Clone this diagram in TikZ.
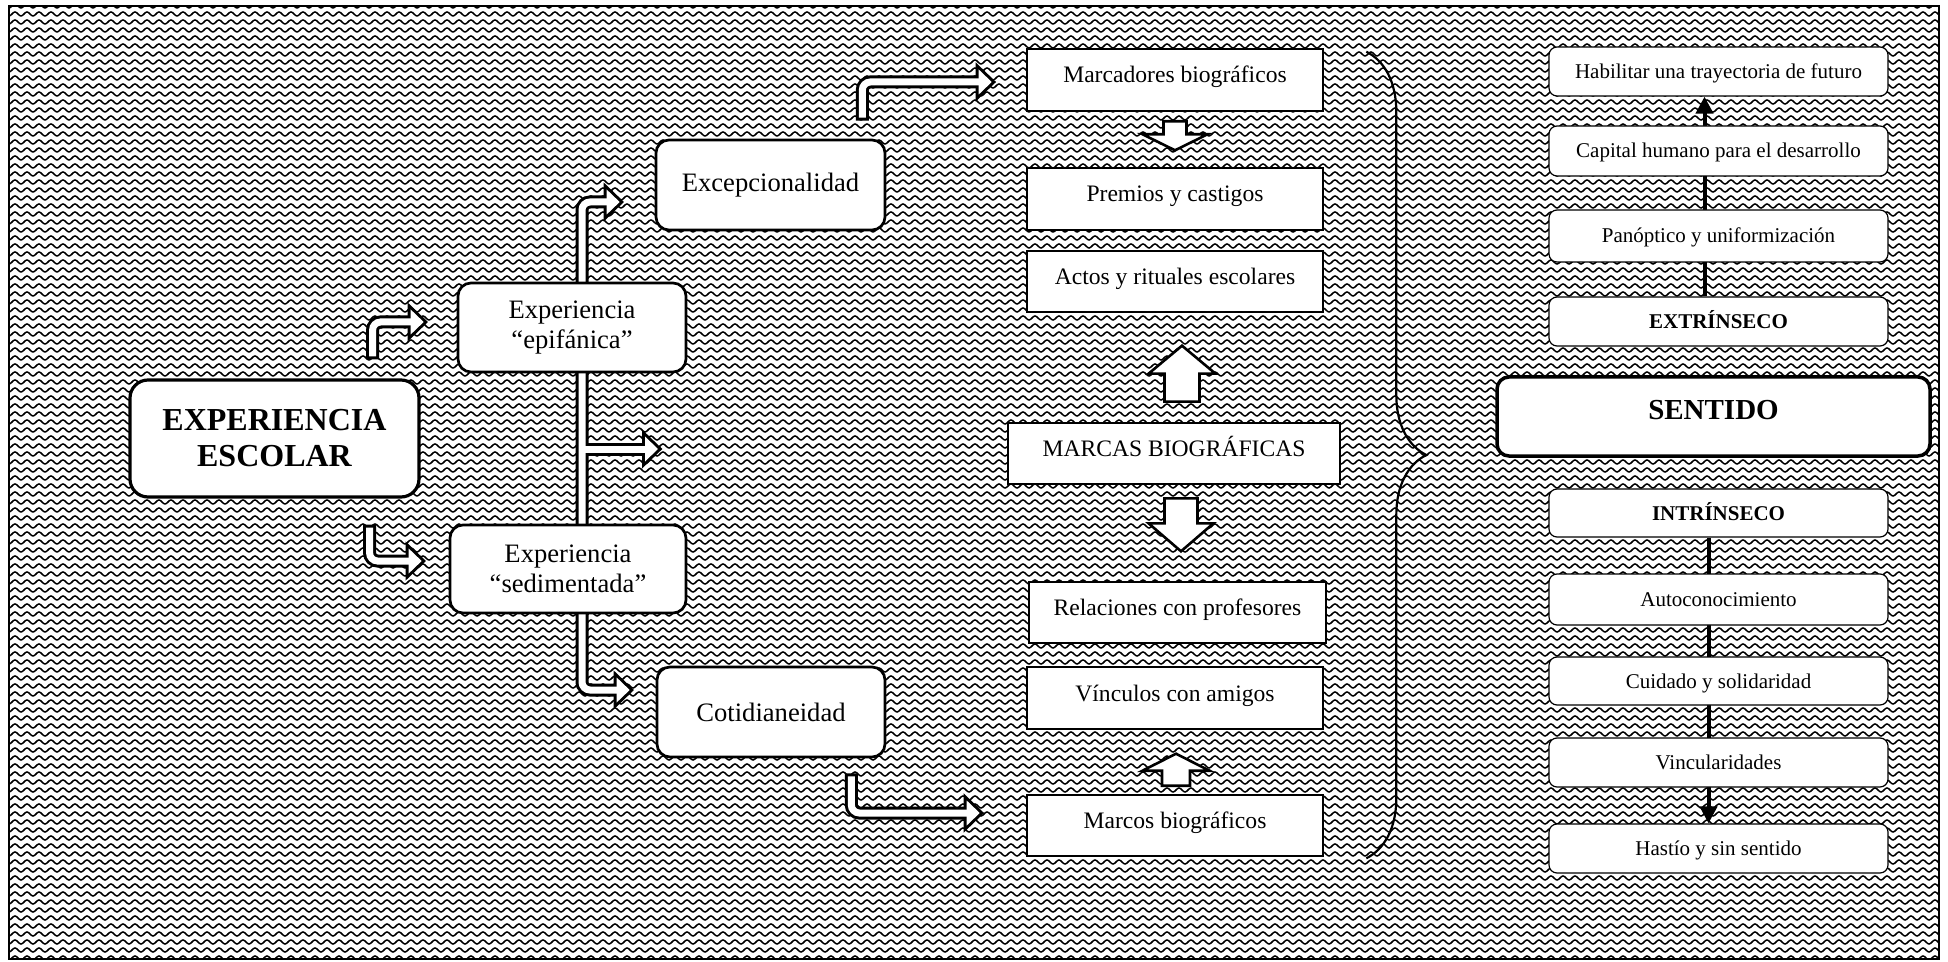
\documentclass[tikz,border=0pt]{standalone}
\usepackage{fontspec}
\setmainfont{Liberation Serif}
\usetikzlibrary{patterns,calc,decorations.pathreplacing,arrows.meta}

% wavy background texture: one sine period per tile
\pgfdeclarepatternformonly{wavy}{\pgfqpoint{-1pt}{-1pt}}{\pgfqpoint{7pt}{5pt}}{\pgfqpoint{6pt}{4pt}}{%
  \pgfsetlinewidth{0.75pt}\pgfsetroundcap
  \pgfpathmoveto{\pgfqpoint{0pt}{2pt}}
  \pgfpathsine{\pgfqpoint{1.5pt}{1pt}}
  \pgfpathcosine{\pgfqpoint{1.5pt}{-1pt}}
  \pgfpathsine{\pgfqpoint{1.5pt}{-1pt}}
  \pgfpathcosine{\pgfqpoint{1.5pt}{1pt}}
  \pgfusepath{stroke}}

\pgfdeclarelayer{ground}
\pgfdeclarelayer{back}
\pgfsetlayers{ground,back,main}

\tikzset{
  rbox/.style={draw, fill=white, rounded corners=6.5pt, line width=1.35pt, inner sep=0pt,
    align=center, font=\fontsize{13.3}{15}\selectfont},
  escbox/.style={rbox, rounded corners=9pt, line width=1.6pt, minimum width=144.5pt,
    minimum height=58.5pt, font=\fontsize{16}{18}\selectfont\bfseries},
  sqbox/.style={draw, fill=white, line width=1.3pt, inner sep=0pt, minimum width=148pt,
    minimum height=31pt, text height=8.5pt, text depth=5.5pt, font=\fontsize{11.8}{14}\selectfont},
  sbox/.style={draw, fill=white, rounded corners=4pt, line width=0.6pt, inner sep=0pt,
    minimum width=169.5pt, minimum height=24.5pt, text height=8.5pt, text depth=1.5pt,
    font=\fontsize{10.5}{12}\selectfont},
  senbox/.style={sbox, rounded corners=6pt, line width=1.75pt, minimum width=216.5pt,
    minimum height=39.5pt, text height=11pt, text depth=8pt, font=\fontsize{14.5}{17}\selectfont\bfseries},
  % hollow arrows: a black pass, then a white pass on top
  shaftO/.style={draw=black, line width=6.5pt, rounded corners=4pt, shorten >=6pt},
  shaftI/.style={draw=white, line width=3.5pt, rounded corners=4pt, shorten >=6pt, shorten <=1.5pt},
  headO/.style={fill=black, draw=black, line width=3pt, line join=miter},
  headI/.style={fill=white},
  blockar/.style={draw, fill=white, line width=1.3pt, line join=miter},
  colar/.style={line width=2pt, -{Triangle[length=8.5pt,width=8.5pt]}},
}

% right-pointing head of a hollow arrow, tip at #2
\newcommand\hollowhead[2]{\path[#1] ($(#2)+(-13,-12.5)$) -- (#2) -- ($(#2)+(-13,12.5)$) -- cycle;}

% every hollow arrow, drawn with shaft style #1 and head style #2
\newcommand\hollowset[2]{%
  \draw[#1] (a1s) |- (a1t);              \hollowhead{#2}{a1t}
  \draw[#1] (a2s) |- (a2t);              \hollowhead{#2}{a2t}
  \draw[#1, shorten <=6pt] (ttop) -| (tbot) -- (tend);
  \hollowhead{#2}{ttop}                  \hollowhead{#2}{tend}
  \draw[#1, shorten <=0pt] (tmid) -- (stubt); \hollowhead{#2}{stubt}
  \draw[#1] (u1s) |- (u1t);              \hollowhead{#2}{u1t}
  \draw[#1] (u2s) |- (u2t);              \hollowhead{#2}{u2t}
}

% block arrow: #1 anchor, #2 dx, #3 tail y, #4 head base y, #5 tip y, #6 shaft half, #7 head half
\newcommand\blockarrow[7]{%
  \draw[blockar, shift={#1}] ({#2-#6},#3) -- ({#2-#6},#4) -- ({#2-#7},#4) -- (#2,#5)
    -- ({#2+#7},#4) -- ({#2+#6},#4) -- ({#2+#6},#3) -- cycle;}

\begin{document}
\begin{tikzpicture}[x=0.5pt, y=-0.5pt]
\useasboundingbox (0,0) rectangle (1948,962);

% left part
\node[escbox] (esc) at (274.5,438.5) {EXPERIENCIA\\ESCOLAR};
\node[rbox, minimum width=114pt, minimum height=44.5pt] (epi) at (572,327.5) {Experiencia\\“epifánica”};
\node[rbox, minimum width=118pt, minimum height=44pt] (sed) at (568,569) {Experiencia\\“sedimentada”};
\node[rbox, minimum width=114.5pt, minimum height=45pt] (exc) at (770.5,185) {Excepcionalidad};
\node[rbox, minimum width=114pt, minimum height=45pt] (cot) at (771,712) {Cotidianeidad};

% middle column
\node[sqbox] (mcd) at (1175,80) {Marcadores biográficos};
\node[sqbox] (pre) at (1175,199) {Premios y castigos};
\node[sqbox, minimum height=30.5pt] (act) at (1175,281.5) {Actos y rituales escolares};
\node[sqbox, minimum width=166pt, minimum height=30.5pt] (mar) at (1174,453.5) {MARCAS BIOGRÁFICAS};
\node[sqbox, minimum width=148.5pt, minimum height=30.5pt] (rel) at (1177.5,612.5) {Relaciones con profesores};
\node[sqbox] (vin) at (1175,698) {Vínculos con amigos};
\node[sqbox, minimum height=30.5pt] (mco) at (1175,825.5) {Marcos biográficos};

% right column
\node[sbox] (hab) at (1718.5,71.5) {Habilitar una trayectoria de futuro};
\node[sbox, minimum height=25pt] (cap) at (1718.5,151) {Capital humano para el desarrollo};
\node[sbox, minimum height=26pt] (pan) at (1718.5,236) {Panóptico y uniformización};
\node[sbox] (ext) at (1718.5,321.5) {\bfseries EXTRÍNSECO};
\node[senbox] (sen) at (1713.5,416.5) {SENTIDO};
\node[sbox, minimum height=24pt] (int) at (1718.5,513) {\bfseries INTRÍNSECO};
\node[sbox, minimum height=25.5pt] (aut) at (1718.5,599.5) {Autoconocimiento};
\node[sbox, minimum height=24pt] (cui) at (1718.5,681) {Cuidado y solidaridad};
\node[sbox] (vcl) at (1718.5,762.5) {Vincularidades};
\node[sbox] (has) at (1718.5,848.5) {Hastío y sin sentido};

% end points of the hollow arrows
\coordinate (a1s) at ($(esc.north east)+(-48,-19)$);
\coordinate (a1t) at ($(epi.west)+(-33,-5.5)$);
\coordinate (a2s) at ($(esc.south east)+(-51,26)$);
\coordinate (a2t) at ($(sed.west)+(-27,-8)$);
\coordinate (ttop) at ($(exc.west)+(-35,17)$);
\coordinate (tbot) at (582,690);
\coordinate (tend) at ($(cot.west)+(-26,-22)$);
\coordinate (tmid) at (582,449);
\coordinate (stubt) at (658,449);
\coordinate (u1s) at ($(exc.north east)+(-24,-18)$);
\coordinate (u1t) at ($(mcd.west)+(-34,2)$);
\coordinate (u2s) at ($(cot.south east)+(-35,15)$);
\coordinate (u2t) at ($(mco.west)+(-46,-12.5)$);
\coordinate (br1) at ($(mcd.north east)+(42,4)$);
\coordinate (br2) at ($(mco.south east)+(42,1)$);

\begin{pgfonlayer}{ground}
  \fill[pattern=wavy] (9,6) rectangle (1939,959);
  \draw[line width=1pt] (9,6) rectangle (1939,959);
\end{pgfonlayer}

\begin{pgfonlayer}{back}
  \hollowset{shaftO}{headO}
  \hollowset{shaftI}{headI}

  \blockarrow{(mcd.south)}{0}{9}{22}{38}{11.5}{32.5}
  \blockarrow{(mar.north)}{8}{-20}{-48}{-76}{17.5}{33.5}
  \blockarrow{(mar.south)}{7}{13}{38}{66}{16.5}{32.5}
  \blockarrow{(mco.north)}{1}{-8}{-23}{-40}{14}{33.5}

  \draw[line width=1.1pt, decorate, decoration={brace, amplitude=30pt}] (br1) -- (br2);

  \draw[colar] ($(ext.north)+(-14,0)$) -- ($(hab.south)+(-14,0)$);
  \draw[colar] ($(int.south)+(-10,0)$) -- ($(has.north)+(-10,0)$);
\end{pgfonlayer}
\end{tikzpicture}
\end{document}
